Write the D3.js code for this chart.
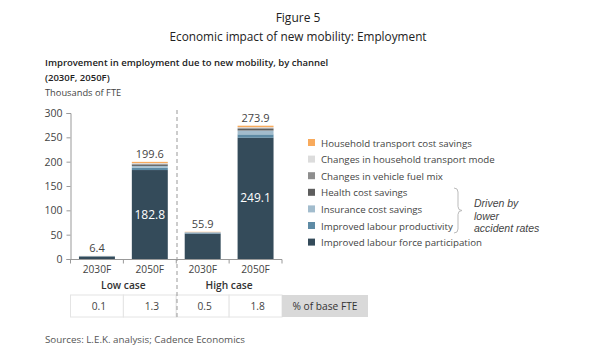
<!DOCTYPE html>
<html>
<head>
<meta charset="utf-8">
<script src="https://cdn.jsdelivr.net/npm/d3@7"></script>
<style>
  html, body { margin: 0; padding: 0; background: #fff; }
  svg { display: block; font-family: "Open Sans", "Noto Sans", sans-serif; }
</style>
</head>
<body>
<svg id="chart" width="600" height="355"></svg>
<script>
// ---------- data ----------
const categories = ["Low 2030F", "Low 2050F", "High 2030F", "High 2050F"];
const yearLabels = ["2030F", "2050F", "2030F", "2050F"];
const caseLabels = ["Low case", "High case"];
const seriesNames = [
  "Improved labour force participation",
  "Improved labour productivity",
  "Insurance cost savings",
  "Health cost savings",
  "Changes in vehicle fuel mix",
  "Changes in household transport mode",
  "Household transport cost savings"
];
const labourForce   = [5.0, 182.8, 52.0, 249.1];
const labourProd    = [0.5, 4.5, 1.2, 7.0];
const insurance     = [0.4, 4.0, 1.0, 8.0];
const health        = [0.2, 2.5, 0.5, 3.0];
const fuelMix       = [0.1, 1.5, 0.3, 1.8];
const transportMode = [0.1, 1.8, 0.4, 2.0];
const householdCost = [0.1, 2.5, 0.5, 3.0];
const totals        = [6.4, 199.6, 55.9, 273.9];
const pctBaseFTE    = ["0.1", "1.3", "0.5", "1.8"];
const yTicks        = [0, 50, 100, 150, 200, 250, 300];
const noteLines     = ["Driven by", "lower", "accident rates"];

const seriesValues = [labourForce, labourProd, insurance, health, fuelMix, transportMode, householdCost];
const colors = ["#344b5a", "#5e8ba5", "#a2bccd", "#5d5d5d", "#8e8e8e", "#dcdcdc", "#f8aa5c"];

// ---------- setup ----------
const svg = d3.select("#chart");
const textCol = "#444";

const x = d3.scaleBand().domain(categories).range([70.5, 282]).paddingInner(0.32).paddingOuter(0.16);
const xb = d3.scaleBand().domain(categories).range([70.5, 282]);
const y = d3.scaleLinear().domain([0, 300]).range([259, 113]);

// titles
svg.append("text").attr("x", 298).attr("y", 22).attr("text-anchor", "middle")
  .attr("font-size", 12).attr("fill", "#222").text("Figure 5");
svg.append("text").attr("x", 298).attr("y", 41).attr("text-anchor", "middle")
  .attr("font-size", 11.8).attr("fill", "#222").text("Economic impact of new mobility: Employment");
svg.append("text").attr("x", 45).attr("y", 66).attr("font-size", 9.5).attr("fill", "#222")
  .attr("font-weight", 600).text("Improvement in employment due to new mobility, by channel");
svg.append("text").attr("x", 45).attr("y", 81).attr("font-size", 9.5).attr("fill", "#222")
  .attr("font-weight", 600).text("(2030F, 2050F)");
svg.append("text").attr("x", 45).attr("y", 96).attr("font-size", 9.3).attr("fill", "#444")
  .text("Thousands of FTE");

// stacked data
const table = categories.map((c, i) => {
  const o = { cat: c };
  seriesNames.forEach((s, j) => o[s] = seriesValues[j][i]);
  return o;
});
const stacked = d3.stack().keys(seriesNames)(table);

// y axis
const yAxis = d3.axisLeft(y).tickValues(yTicks).tickSize(4).tickPadding(4);
const gy = svg.append("g").attr("transform", "translate(70.5,0)").call(yAxis);
gy.select(".domain").attr("stroke", "#999");
gy.selectAll(".tick line").attr("stroke", "#999");
gy.selectAll(".tick text").attr("fill", textCol).attr("font-size", 10.5)
  .attr("font-family", "Open Sans, sans-serif");

// bars
svg.append("g").selectAll("g").data(stacked).join("g")
  .attr("fill", (d, i) => colors[i])
  .selectAll("rect").data(d => d).join("rect")
  .attr("x", d => x(d.data.cat))
  .attr("width", x.bandwidth())
  .attr("y", d => y(d[1]))
  .attr("height", d => Math.max(0, y(d[0]) - y(d[1])));

// x axis
const xAxisLine = svg.append("g");
xAxisLine.append("line").attr("x1", 70.5).attr("x2", 282).attr("y1", 259.5).attr("y2", 259.5).attr("stroke", "#999");
const boundaries = categories.map(c => xb(c)).concat([xb.range()[1]]);
xAxisLine.selectAll("line.t").data(boundaries).join("line").attr("class", "t")
  .attr("x1", d => d).attr("x2", d => d).attr("y1", 259.5).attr("y2", 263.5).attr("stroke", "#999");

// total labels
svg.append("g").selectAll("text").data(categories).join("text")
  .attr("x", c => x(c) + x.bandwidth() / 2)
  .attr("y", (c, i) => y(totals[i]) - 4)
  .attr("text-anchor", "middle").attr("font-size", 11).attr("fill", textCol)
  .text((c, i) => totals[i].toFixed(1));

// inner labels for big bars
svg.append("g").selectAll("text").data(categories.filter((c, i) => labourForce[i] > 100)).join("text")
  .attr("x", c => x(c) + x.bandwidth() / 2)
  .attr("y", c => { const i = categories.indexOf(c); return y(labourForce[i] / 2) + 4; })
  .attr("text-anchor", "middle").attr("font-size", 12).attr("fill", "#fff")
  .text(c => labourForce[categories.indexOf(c)].toFixed(1));

// year labels
svg.append("g").selectAll("text").data(categories).join("text")
  .attr("x", c => xb(c) + xb.bandwidth() / 2)
  .attr("y", 273).attr("text-anchor", "middle").attr("font-size", 10.2).attr("fill", textCol)
  .text((c, i) => yearLabels[i]);

// case labels
caseLabels.forEach((lab, k) => {
  const a = xb(categories[2 * k]), b = xb(categories[2 * k + 1]) + xb.bandwidth();
  svg.append("text").attr("x", (a + b) / 2).attr("y", 289).attr("text-anchor", "middle")
    .attr("font-size", 10.2).attr("font-weight", 600).attr("fill", "#333").text(lab);
});

// table row
const rowTop = 295, rowH = 22;
svg.append("g").selectAll("rect").data(categories).join("rect")
  .attr("x", c => xb(c)).attr("y", rowTop).attr("width", xb.bandwidth()).attr("height", rowH)
  .attr("fill", "#fff").attr("stroke", "#e4e4e4");
svg.append("rect").attr("x", 282).attr("y", rowTop).attr("width", 86).attr("height", rowH)
  .attr("fill", "#d9d9d9");
svg.append("text").attr("x", 325).attr("y", rowTop + 15).attr("text-anchor", "middle")
  .attr("font-size", 10.2).attr("fill", "#333").text("% of base FTE");
svg.append("g").selectAll("text").data(categories).join("text")
  .attr("x", c => xb(c) + xb.bandwidth() / 2 + 2)
  .attr("y", rowTop + 15).attr("text-anchor", "middle").attr("font-size", 10.2).attr("fill", textCol)
  .text((c, i) => pctBaseFTE[i]);

// dashed divider
svg.append("line").attr("x1", 177).attr("x2", 177).attr("y1", 110).attr("y2", 319)
  .attr("stroke", "#999").attr("stroke-dasharray", "4,3");

// legend (top to bottom reversed order)
const legendItems = seriesNames.map((s, i) => ({ name: s, color: colors[i] })).reverse();
const lg = svg.append("g");
legendItems.forEach((d, i) => {
  const ly = 143 + i * 16.6;
  lg.append("rect").attr("x", 308).attr("y", ly - 4).attr("width", 7).attr("height", 7).attr("fill", d.color);
  lg.append("text").attr("x", 321).attr("y", ly + 3.5).attr("font-size", 9.7).attr("fill", textCol).text(d.name);
});

// brace
const bx = 454, by0 = 188, by1 = 233, bm = (by0 + by1) / 2;
lg.append("path")
  .attr("d", `M${bx},${by0} Q${bx + 4},${by0} ${bx + 4},${by0 + 4} L${bx + 4},${bm - 4} Q${bx + 4},${bm} ${bx + 8},${bm} Q${bx + 4},${bm} ${bx + 4},${bm + 4} L${bx + 4},${by1 - 4} Q${bx + 4},${by1} ${bx},${by1}`)
  .attr("fill", "none").attr("stroke", "#bbb").attr("stroke-width", 1);
noteLines.forEach((t, i) => {
  lg.append("text").attr("x", 474).attr("y", 207 + i * 12.5).attr("font-size", 10.5)
    .attr("font-family", "Liberation Sans, Arial, sans-serif")
    .attr("font-style", "italic").attr("fill", textCol).text(t);
});

// source
svg.append("text").attr("x", 45).attr("y", 343).attr("font-size", 9.8).attr("fill", "#555")
  .text("Sources: L.E.K. analysis; Cadence Economics");
</script>
</body>
</html>
